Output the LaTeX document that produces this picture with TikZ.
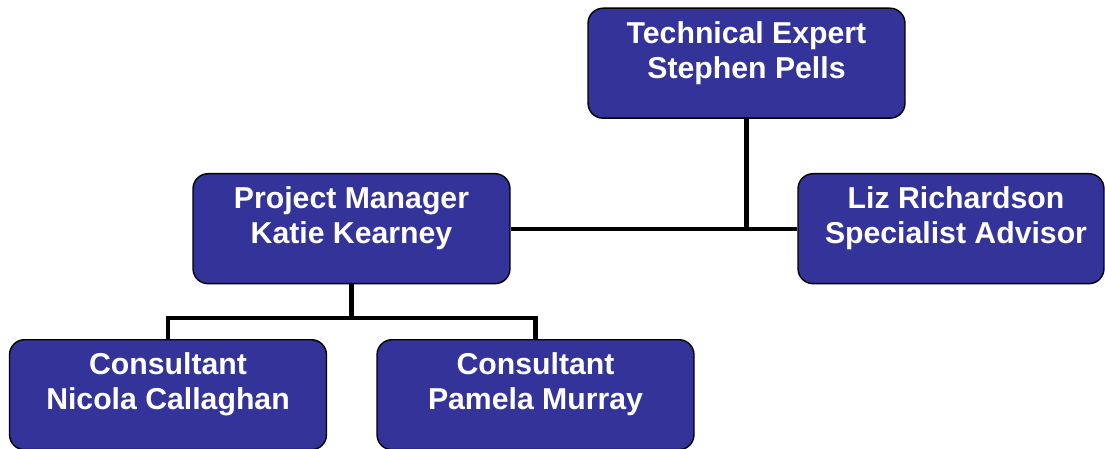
\documentclass[tikz,border=0pt]{standalone}
\usepackage{fontspec}
\setmainfont{Liberation Sans}
\usetikzlibrary{positioning}
\definecolor{boxblue}{RGB}{51,51,153}

\begin{document}
\begin{tikzpicture}[
    x=0.02cm, y=-0.02cm,
    orgbox/.style={rectangle, draw=black, line width=0.8pt, rounded corners=0.3cm, fill=boxblue,
        text=white, font=\fontsize{17.2}{19.9}\selectfont\bfseries, align=center,
        inner xsep=0pt, inner ysep=0pt, minimum width=6.34cm, text height=1.40cm, text depth=0.80cm},
    link/.style={line width=2.3pt}
]
\useasboundingbox (0,0) rectangle (1105,449);

% Top
\node[orgbox, anchor=north] (tech) at (746.5,7.5) {Technical Expert\\Stephen Pells};

% Middle row
\node[orgbox, anchor=north] (pm) at (351.5,173) {Project Manager\\Katie Kearney};
\node[orgbox, anchor=north, minimum width=6.12cm] (liz) at (951,173) {\hspace*{0.2cm}Liz Richardson\\\hspace*{0.2cm}Specialist Advisor};

% Bottom row
\node[orgbox, anchor=north] (nicola) at (168,339) {Consultant\\Nicola Callaghan};
\node[orgbox, anchor=north] (pamela) at (535.5,339) {Consultant\\Pamela Murray};

% Lines
\draw[link] (pm.east) -- (liz.west);
\draw[link] (tech.south) -- (tech.south |- pm.east);
\coordinate[below=0.68cm of pm.south] (pmsplit);
\draw[link] (pm.south) -- (pmsplit);
\draw[link] (pmsplit) -| (nicola.north);
\draw[link] (pmsplit) -| (pamela.north);

\end{tikzpicture}
\end{document}
